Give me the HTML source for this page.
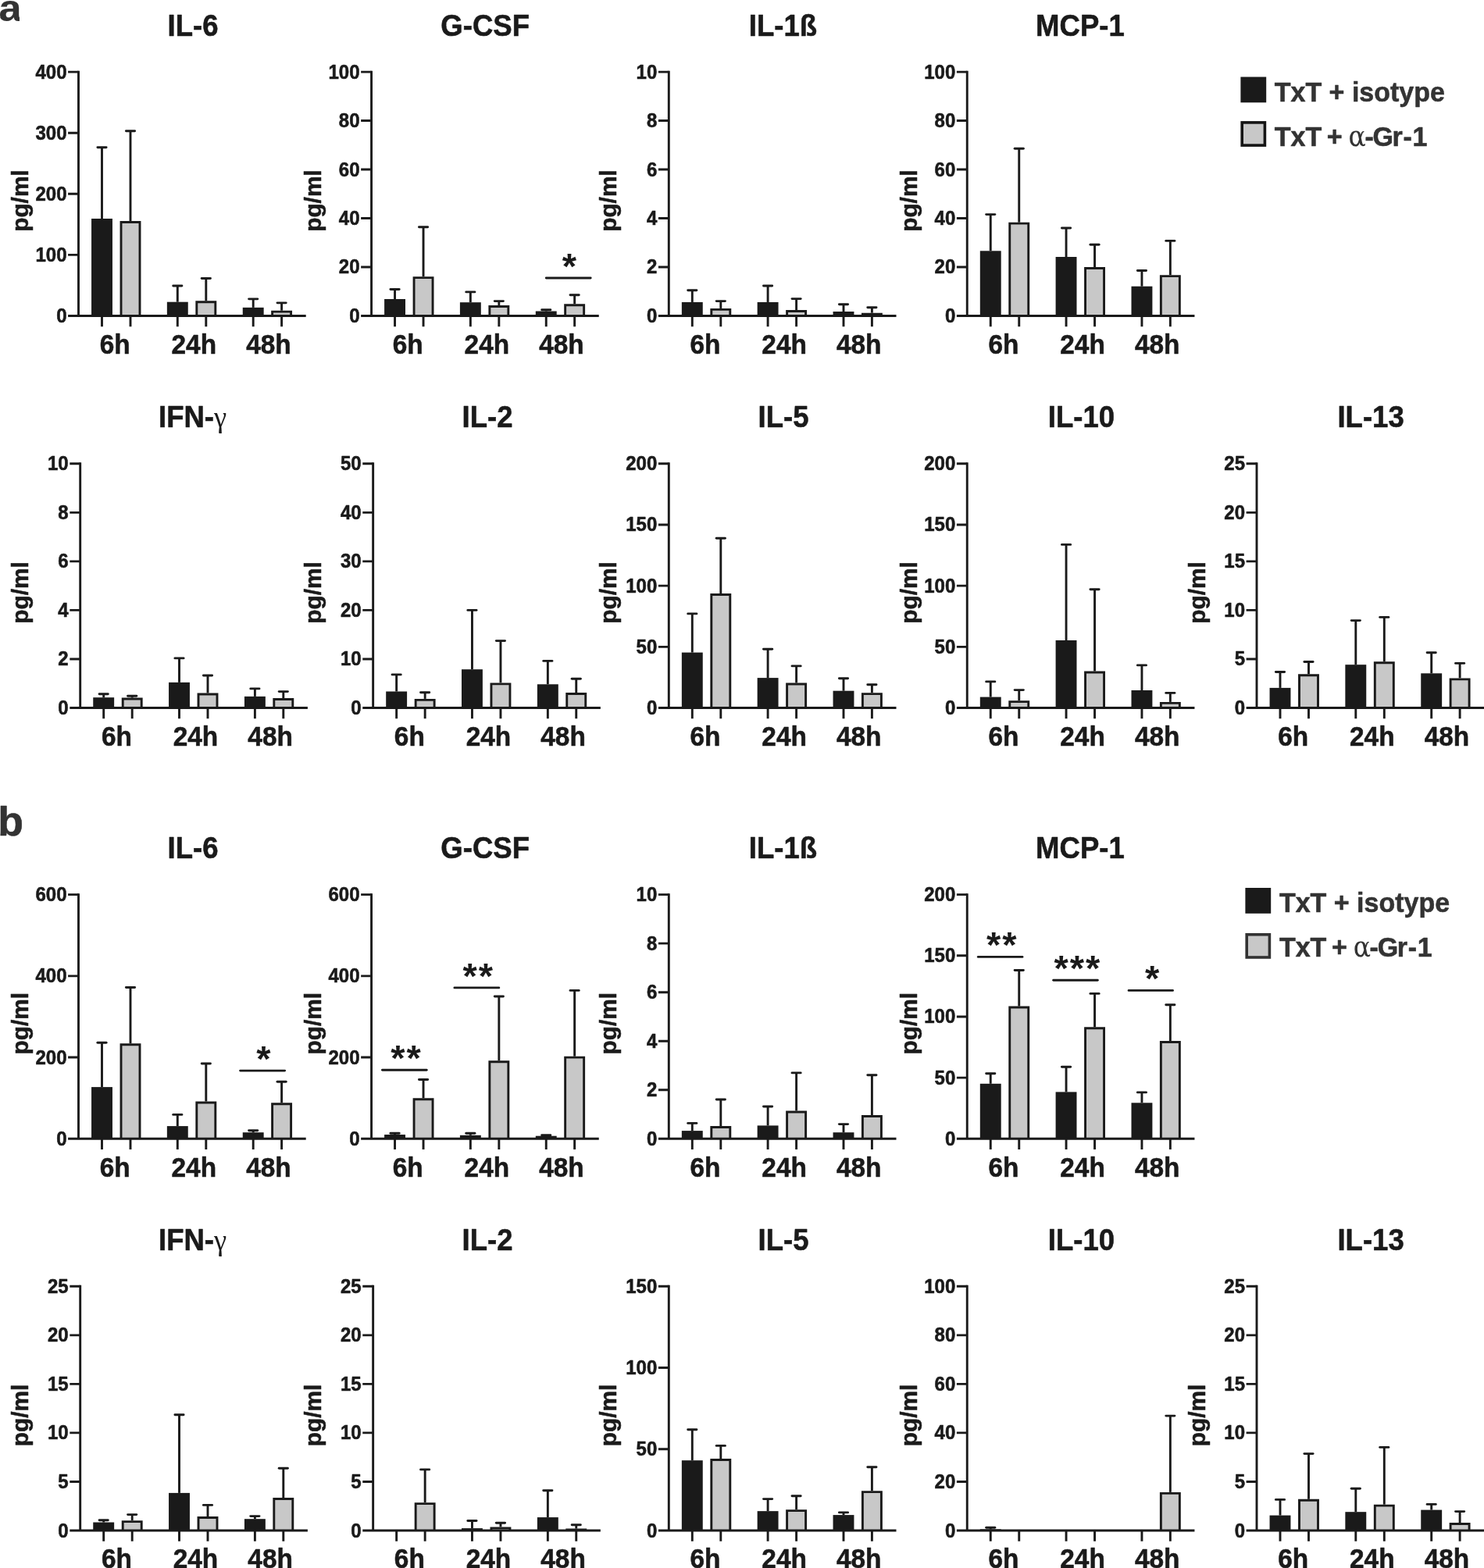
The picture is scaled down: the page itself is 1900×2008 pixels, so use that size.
<!DOCTYPE html>
<html lang="en">
<head>
<meta charset="utf-8">
<title>Cytokine levels: TxT + isotype vs TxT + α-Gr-1</title>
<style>
html,body{margin:0;padding:0;background:#fff;}
body{width:1900px;height:2008px;overflow:hidden;}
svg{display:block;}
text{font-family:"Liberation Sans", Arial, Helvetica, sans-serif;font-weight:700;fill:#1a1a1a;stroke:#1a1a1a;stroke-width:0.55px;stroke-linejoin:round;}
.ttl{font-size:37.0px;}
.tk{font-size:24.0px;}
.xl{font-size:33.4px;}
.yl{font-size:29.8px;}
.sg{font-size:47.0px;letter-spacing:1.9px;stroke:none;}
.lg{font-size:34.0px;fill:#333333;stroke:#333333;}
.ab{font-size:51.0px;fill:#333333;stroke:#333333;}
.gk{font-family:"Liberation Serif", "DejaVu Serif", serif;font-weight:400;stroke:none;}
.gk2{font-family:"DejaVu Serif", "Liberation Serif", serif;font-weight:400;stroke:none;font-size:33.0px;}
.axl{fill:none;stroke:#1a1a1a;stroke-width:2.9;}
.ln{fill:none;stroke:#1a1a1a;stroke-width:2.9;}
.rc{fill:none;stroke:#1a1a1a;stroke-width:2.9;stroke-linecap:round;}
.bk{fill:#1a1a1a;}
.gr{fill:#c8c8c8;stroke:#1a1a1a;stroke-width:2.9;stroke-linejoin:miter;}
</style>
</head>
<body>
<svg width="1900" height="2008" viewBox="0 0 1900 2008" role="img" aria-label="Cytokine bar charts">
<rect width="1900" height="2008" fill="#fff"/>
<clipPath id="clipA"><rect x="0" y="0" width="24.9" height="40"/></clipPath>
<g clip-path="url(#clipA)"><text class="ab" style="font-size:47.5px;stroke-width:0.2px" transform="translate(-1.6 26.8) scale(1.1 1)">a</text></g>
<text class="ab" transform="translate(-2.8 1069.6) scale(1.05 1)">b</text>
<g class="chart">
<text class="ttl" transform="translate(247 45.7) scale(0.988 1.05)" text-anchor="middle">IL-6</text>
<text class="yl" transform="translate(36.2 257.07) rotate(-90)" text-anchor="middle">pg/ml</text>
<path class="ln" d="M130.5 280V188.7"/><path class="rc" d="M124.9 188.7H136.1"/>
<rect class="bk" x="117.05" y="280" width="26.9" height="124.45"/>
<path class="ln" d="M167 283.1V167.8"/><path class="rc" d="M161.4 167.8H172.6"/>
<path class="gr" d="M155 404.45V284.55H179V404.45"/>
<path class="ln" d="M227.3 386.7V366"/><path class="rc" d="M221.7 366H232.9"/>
<rect class="bk" x="213.85" y="386.7" width="26.9" height="17.75"/>
<path class="ln" d="M263.8 385.3V356.5"/><path class="rc" d="M258.2 356.5H269.4"/>
<path class="gr" d="M251.8 404.45V386.75H275.8V404.45"/>
<path class="ln" d="M324.2 393.85V382.85"/><path class="rc" d="M318.6 382.85H329.8"/>
<rect class="bk" x="310.75" y="393.85" width="26.9" height="10.6"/>
<path class="ln" d="M360.6 397.7V387.85"/><path class="rc" d="M355 387.85H366.2"/>
<path class="gr" d="M348.6 404.45V399.15H372.6V404.45"/>
<path class="axl" d="M100.5 90.65V405.9M87.1 404.45H391.7"/>
<text class="tk" transform="translate(85.5 100.6) scale(1 1.04)" text-anchor="end">400</text>
<text class="tk" transform="translate(85.5 178.69) scale(1 1.04)" text-anchor="end">300</text>
<text class="tk" transform="translate(85.5 256.77) scale(1 1.04)" text-anchor="end">200</text>
<text class="tk" transform="translate(85.5 334.86) scale(1 1.04)" text-anchor="end">100</text>
<text class="tk" transform="translate(85.5 412.95) scale(1 1.04)" text-anchor="end">0</text>
<path class="ln" d="M87.1 92.1H100.5M87.1 170.19H100.5M87.1 248.28H100.5M87.1 326.36H100.5M130.5 404.45V418.15M167 404.45V418.15M227.3 404.45V418.15M263.8 404.45V418.15M324.2 404.45V418.15M360.6 404.45V418.15"/>
<text class="xl" transform="translate(147.2 452.75) scale(1 1.03)" text-anchor="middle">6h</text>
<text class="xl" transform="translate(248.3 452.75) scale(1 1.03)" text-anchor="middle">24h</text>
<text class="xl" transform="translate(343.9 452.75) scale(1 1.03)" text-anchor="middle">48h</text>
</g>
<g class="chart">
<text class="ttl" transform="translate(621.2 45.7) scale(0.988 1.05)" text-anchor="middle">G-CSF</text>
<text class="yl" transform="translate(411.2 257.07) rotate(-90)" text-anchor="middle">pg/ml</text>
<path class="ln" d="M505.55 383V370.5"/><path class="rc" d="M499.95 370.5H511.15"/>
<rect class="bk" x="492.1" y="383" width="26.9" height="21.45"/>
<path class="ln" d="M542.05 354.2V290.7"/><path class="rc" d="M536.45 290.7H547.65"/>
<path class="gr" d="M530.05 404.45V355.65H554.05V404.45"/>
<path class="ln" d="M602.35 387.2V373.9"/><path class="rc" d="M596.75 373.9H607.95"/>
<rect class="bk" x="588.9" y="387.2" width="26.9" height="17.25"/>
<path class="ln" d="M638.85 391.1V385.6"/><path class="rc" d="M633.25 385.6H644.45"/>
<path class="gr" d="M626.85 404.45V392.55H650.85V404.45"/>
<path class="ln" d="M699.25 398.5V396.8"/><path class="rc" d="M693.65 396.8H704.85"/>
<rect class="bk" x="685.8" y="398.5" width="26.9" height="5.95"/>
<path class="ln" d="M735.65 389.3V377.8"/><path class="rc" d="M730.05 377.8H741.25"/>
<path class="gr" d="M723.65 404.45V390.75H747.65V404.45"/>
<path class="axl" d="M475.55 90.65V405.9M462.15 404.45H766.75"/>
<text class="tk" transform="translate(460.55 100.6) scale(1 1.04)" text-anchor="end">100</text>
<text class="tk" transform="translate(460.55 163.07) scale(1 1.04)" text-anchor="end">80</text>
<text class="tk" transform="translate(460.55 225.54) scale(1 1.04)" text-anchor="end">60</text>
<text class="tk" transform="translate(460.55 288.01) scale(1 1.04)" text-anchor="end">40</text>
<text class="tk" transform="translate(460.55 350.48) scale(1 1.04)" text-anchor="end">20</text>
<text class="tk" transform="translate(460.55 412.95) scale(1 1.04)" text-anchor="end">0</text>
<path class="ln" d="M462.15 92.1H475.55M462.15 154.57H475.55M462.15 217.04H475.55M462.15 279.51H475.55M462.15 341.98H475.55M505.55 404.45V418.15M542.05 404.45V418.15M602.35 404.45V418.15M638.85 404.45V418.15M699.25 404.45V418.15M735.65 404.45V418.15"/>
<text class="xl" transform="translate(522.25 452.75) scale(1 1.03)" text-anchor="middle">6h</text>
<text class="xl" transform="translate(623.35 452.75) scale(1 1.03)" text-anchor="middle">24h</text>
<text class="xl" transform="translate(718.95 452.75) scale(1 1.03)" text-anchor="middle">48h</text>
<path class="rc" d="M699.3 356H756.2"/>
<text class="sg" transform="translate(729.95 356.85) scale(1 0.99)" text-anchor="middle">*</text>
</g>
<g class="chart">
<text class="ttl" transform="translate(1002.5 45.7) scale(0.988 1.05)" text-anchor="middle">IL-1ß</text>
<text class="yl" transform="translate(789.1 257.07) rotate(-90)" text-anchor="middle">pg/ml</text>
<path class="ln" d="M886.3 386.95V371.7"/><path class="rc" d="M880.7 371.7H891.9"/>
<rect class="bk" x="872.85" y="386.95" width="26.9" height="17.5"/>
<path class="ln" d="M922.8 394.95V385.6"/><path class="rc" d="M917.2 385.6H928.4"/>
<path class="gr" d="M910.8 404.45V396.4H934.8V404.45"/>
<path class="ln" d="M983.1 386.95V366"/><path class="rc" d="M977.5 366H988.7"/>
<rect class="bk" x="969.65" y="386.95" width="26.9" height="17.5"/>
<path class="ln" d="M1019.6 397V382.6"/><path class="rc" d="M1014 382.6H1025.2"/>
<path class="gr" d="M1007.6 404.45V398.45H1031.6V404.45"/>
<path class="ln" d="M1080 399V389.8"/><path class="rc" d="M1074.4 389.8H1085.6"/>
<rect class="bk" x="1066.55" y="399" width="26.9" height="5.45"/>
<path class="ln" d="M1116.4 400.7V393.7"/><path class="rc" d="M1110.8 393.7H1122"/>
<path class="gr" d="M1104.4 404.45V402.15H1128.4V404.45"/>
<path class="axl" d="M856.3 90.65V405.9M842.9 404.45H1147.5"/>
<text class="tk" transform="translate(841.3 100.6) scale(1 1.04)" text-anchor="end">10</text>
<text class="tk" transform="translate(841.3 163.07) scale(1 1.04)" text-anchor="end">8</text>
<text class="tk" transform="translate(841.3 225.54) scale(1 1.04)" text-anchor="end">6</text>
<text class="tk" transform="translate(841.3 288.01) scale(1 1.04)" text-anchor="end">4</text>
<text class="tk" transform="translate(841.3 350.48) scale(1 1.04)" text-anchor="end">2</text>
<text class="tk" transform="translate(841.3 412.95) scale(1 1.04)" text-anchor="end">0</text>
<path class="ln" d="M842.9 92.1H856.3M842.9 154.57H856.3M842.9 217.04H856.3M842.9 279.51H856.3M842.9 341.98H856.3M886.3 404.45V418.15M922.8 404.45V418.15M983.1 404.45V418.15M1019.6 404.45V418.15M1080 404.45V418.15M1116.4 404.45V418.15"/>
<text class="xl" transform="translate(903 452.75) scale(1 1.03)" text-anchor="middle">6h</text>
<text class="xl" transform="translate(1004.1 452.75) scale(1 1.03)" text-anchor="middle">24h</text>
<text class="xl" transform="translate(1099.7 452.75) scale(1 1.03)" text-anchor="middle">48h</text>
</g>
<g class="chart">
<text class="ttl" transform="translate(1382.9 45.7) scale(0.988 1.05)" text-anchor="middle">MCP-1</text>
<text class="yl" transform="translate(1173.7 257.07) rotate(-90)" text-anchor="middle">pg/ml</text>
<path class="ln" d="M1268.25 321.3V274.6"/><path class="rc" d="M1262.65 274.6H1273.85"/>
<rect class="bk" x="1254.8" y="321.3" width="26.9" height="83.15"/>
<path class="ln" d="M1304.75 284.7V190.3"/><path class="rc" d="M1299.15 190.3H1310.35"/>
<path class="gr" d="M1292.75 404.45V286.15H1316.75V404.45"/>
<path class="ln" d="M1365.05 329V292"/><path class="rc" d="M1359.45 292H1370.65"/>
<rect class="bk" x="1351.6" y="329" width="26.9" height="75.45"/>
<path class="ln" d="M1401.55 342V313.3"/><path class="rc" d="M1395.95 313.3H1407.15"/>
<path class="gr" d="M1389.55 404.45V343.45H1413.55V404.45"/>
<path class="ln" d="M1461.95 366.7V346.5"/><path class="rc" d="M1456.35 346.5H1467.55"/>
<rect class="bk" x="1448.5" y="366.7" width="26.9" height="37.75"/>
<path class="ln" d="M1498.35 352.2V308.4"/><path class="rc" d="M1492.75 308.4H1503.95"/>
<path class="gr" d="M1486.35 404.45V353.65H1510.35V404.45"/>
<path class="axl" d="M1238.25 90.65V405.9M1224.85 404.45H1529.45"/>
<text class="tk" transform="translate(1223.25 100.6) scale(1 1.04)" text-anchor="end">100</text>
<text class="tk" transform="translate(1223.25 163.07) scale(1 1.04)" text-anchor="end">80</text>
<text class="tk" transform="translate(1223.25 225.54) scale(1 1.04)" text-anchor="end">60</text>
<text class="tk" transform="translate(1223.25 288.01) scale(1 1.04)" text-anchor="end">40</text>
<text class="tk" transform="translate(1223.25 350.48) scale(1 1.04)" text-anchor="end">20</text>
<text class="tk" transform="translate(1223.25 412.95) scale(1 1.04)" text-anchor="end">0</text>
<path class="ln" d="M1224.85 92.1H1238.25M1224.85 154.57H1238.25M1224.85 217.04H1238.25M1224.85 279.51H1238.25M1224.85 341.98H1238.25M1268.25 404.45V418.15M1304.75 404.45V418.15M1365.05 404.45V418.15M1401.55 404.45V418.15M1461.95 404.45V418.15M1498.35 404.45V418.15"/>
<text class="xl" transform="translate(1284.95 452.75) scale(1 1.03)" text-anchor="middle">6h</text>
<text class="xl" transform="translate(1386.05 452.75) scale(1 1.03)" text-anchor="middle">24h</text>
<text class="xl" transform="translate(1481.65 452.75) scale(1 1.03)" text-anchor="middle">48h</text>
</g>
<g class="chart">
<text class="ttl" transform="translate(246.6 547.4) scale(0.988 1.05)" text-anchor="middle">IFN-<tspan class="gk">γ</tspan></text>
<text class="yl" transform="translate(36.2 758.95) rotate(-90)" text-anchor="middle">pg/ml</text>
<path class="ln" d="M132.7 893.2V888.7"/><path class="rc" d="M127.1 888.7H138.3"/>
<rect class="bk" x="119.25" y="893.2" width="26.9" height="13.3"/>
<path class="ln" d="M169.2 893.6V891.2"/><path class="rc" d="M163.6 891.2H174.8"/>
<path class="gr" d="M157.2 906.5V895.05H181.2V906.5"/>
<path class="ln" d="M229.5 873.9V842.9"/><path class="rc" d="M223.9 842.9H235.1"/>
<rect class="bk" x="216.05" y="873.9" width="26.9" height="32.6"/>
<path class="ln" d="M266 887.5V865"/><path class="rc" d="M260.4 865H271.6"/>
<path class="gr" d="M254 906.5V888.95H278V906.5"/>
<path class="ln" d="M326.4 891.9V881.9"/><path class="rc" d="M320.8 881.9H332"/>
<rect class="bk" x="312.95" y="891.9" width="26.9" height="14.6"/>
<path class="ln" d="M362.8 894V885.6"/><path class="rc" d="M357.2 885.6H368.4"/>
<path class="gr" d="M350.8 906.5V895.45H374.8V906.5"/>
<path class="axl" d="M102.7 592.35V907.95M89.3 906.5H393.9"/>
<text class="tk" transform="translate(87.7 602.3) scale(1 1.04)" text-anchor="end">10</text>
<text class="tk" transform="translate(87.7 664.84) scale(1 1.04)" text-anchor="end">8</text>
<text class="tk" transform="translate(87.7 727.38) scale(1 1.04)" text-anchor="end">6</text>
<text class="tk" transform="translate(87.7 789.92) scale(1 1.04)" text-anchor="end">4</text>
<text class="tk" transform="translate(87.7 852.46) scale(1 1.04)" text-anchor="end">2</text>
<text class="tk" transform="translate(87.7 915) scale(1 1.04)" text-anchor="end">0</text>
<path class="ln" d="M89.3 593.8H102.7M89.3 656.34H102.7M89.3 718.88H102.7M89.3 781.42H102.7M89.3 843.96H102.7M132.7 906.5V920.2M169.2 906.5V920.2M229.5 906.5V920.2M266 906.5V920.2M326.4 906.5V920.2M362.8 906.5V920.2"/>
<text class="xl" transform="translate(149.4 954.8) scale(1 1.03)" text-anchor="middle">6h</text>
<text class="xl" transform="translate(250.5 954.8) scale(1 1.03)" text-anchor="middle">24h</text>
<text class="xl" transform="translate(346.1 954.8) scale(1 1.03)" text-anchor="middle">48h</text>
</g>
<g class="chart">
<text class="ttl" transform="translate(624 547.4) scale(0.988 1.05)" text-anchor="middle">IL-2</text>
<text class="yl" transform="translate(411.2 758.95) rotate(-90)" text-anchor="middle">pg/ml</text>
<path class="ln" d="M507.65 885.5V863.9"/><path class="rc" d="M502.05 863.9H513.25"/>
<rect class="bk" x="494.2" y="885.5" width="26.9" height="21"/>
<path class="ln" d="M544.15 894.9V886.8"/><path class="rc" d="M538.55 886.8H549.75"/>
<path class="gr" d="M532.15 906.5V896.35H556.15V906.5"/>
<path class="ln" d="M604.45 857.2V781.4"/><path class="rc" d="M598.85 781.4H610.05"/>
<rect class="bk" x="591" y="857.2" width="26.9" height="49.3"/>
<path class="ln" d="M640.95 874.4V820.6"/><path class="rc" d="M635.35 820.6H646.55"/>
<path class="gr" d="M628.95 906.5V875.85H652.95V906.5"/>
<path class="ln" d="M701.35 876.3V846.4"/><path class="rc" d="M695.75 846.4H706.95"/>
<rect class="bk" x="687.9" y="876.3" width="26.9" height="30.2"/>
<path class="ln" d="M737.75 887V869.3"/><path class="rc" d="M732.15 869.3H743.35"/>
<path class="gr" d="M725.75 906.5V888.45H749.75V906.5"/>
<path class="axl" d="M477.65 592.35V907.95M464.25 906.5H768.85"/>
<text class="tk" transform="translate(462.65 602.3) scale(1 1.04)" text-anchor="end">50</text>
<text class="tk" transform="translate(462.65 664.84) scale(1 1.04)" text-anchor="end">40</text>
<text class="tk" transform="translate(462.65 727.38) scale(1 1.04)" text-anchor="end">30</text>
<text class="tk" transform="translate(462.65 789.92) scale(1 1.04)" text-anchor="end">20</text>
<text class="tk" transform="translate(462.65 852.46) scale(1 1.04)" text-anchor="end">10</text>
<text class="tk" transform="translate(462.65 915) scale(1 1.04)" text-anchor="end">0</text>
<path class="ln" d="M464.25 593.8H477.65M464.25 656.34H477.65M464.25 718.88H477.65M464.25 781.42H477.65M464.25 843.96H477.65M507.65 906.5V920.2M544.15 906.5V920.2M604.45 906.5V920.2M640.95 906.5V920.2M701.35 906.5V920.2M737.75 906.5V920.2"/>
<text class="xl" transform="translate(524.35 954.8) scale(1 1.03)" text-anchor="middle">6h</text>
<text class="xl" transform="translate(625.45 954.8) scale(1 1.03)" text-anchor="middle">24h</text>
<text class="xl" transform="translate(721.05 954.8) scale(1 1.03)" text-anchor="middle">48h</text>
</g>
<g class="chart">
<text class="ttl" transform="translate(1003 547.4) scale(0.988 1.05)" text-anchor="middle">IL-5</text>
<text class="yl" transform="translate(789.1 758.95) rotate(-90)" text-anchor="middle">pg/ml</text>
<path class="ln" d="M886.3 835.6V785.9"/><path class="rc" d="M880.7 785.9H891.9"/>
<rect class="bk" x="872.85" y="835.6" width="26.9" height="70.9"/>
<path class="ln" d="M922.8 760V689.2"/><path class="rc" d="M917.2 689.2H928.4"/>
<path class="gr" d="M910.8 906.5V761.45H934.8V906.5"/>
<path class="ln" d="M983.1 868.1V831.2"/><path class="rc" d="M977.5 831.2H988.7"/>
<rect class="bk" x="969.65" y="868.1" width="26.9" height="38.4"/>
<path class="ln" d="M1019.6 874.5V852.9"/><path class="rc" d="M1014 852.9H1025.2"/>
<path class="gr" d="M1007.6 906.5V875.95H1031.6V906.5"/>
<path class="ln" d="M1080 884.7V868.8"/><path class="rc" d="M1074.4 868.8H1085.6"/>
<rect class="bk" x="1066.55" y="884.7" width="26.9" height="21.8"/>
<path class="ln" d="M1116.4 887.2V876.7"/><path class="rc" d="M1110.8 876.7H1122"/>
<path class="gr" d="M1104.4 906.5V888.65H1128.4V906.5"/>
<path class="axl" d="M856.3 592.35V907.95M842.9 906.5H1147.5"/>
<text class="tk" transform="translate(841.3 602.3) scale(1 1.04)" text-anchor="end">200</text>
<text class="tk" transform="translate(841.3 680.47) scale(1 1.04)" text-anchor="end">150</text>
<text class="tk" transform="translate(841.3 758.65) scale(1 1.04)" text-anchor="end">100</text>
<text class="tk" transform="translate(841.3 836.83) scale(1 1.04)" text-anchor="end">50</text>
<text class="tk" transform="translate(841.3 915) scale(1 1.04)" text-anchor="end">0</text>
<path class="ln" d="M842.9 593.8H856.3M842.9 671.97H856.3M842.9 750.15H856.3M842.9 828.33H856.3M886.3 906.5V920.2M922.8 906.5V920.2M983.1 906.5V920.2M1019.6 906.5V920.2M1080 906.5V920.2M1116.4 906.5V920.2"/>
<text class="xl" transform="translate(903 954.8) scale(1 1.03)" text-anchor="middle">6h</text>
<text class="xl" transform="translate(1004.1 954.8) scale(1 1.03)" text-anchor="middle">24h</text>
<text class="xl" transform="translate(1099.7 954.8) scale(1 1.03)" text-anchor="middle">48h</text>
</g>
<g class="chart">
<text class="ttl" transform="translate(1384.4 547.4) scale(0.988 1.05)" text-anchor="middle">IL-10</text>
<text class="yl" transform="translate(1173.7 758.95) rotate(-90)" text-anchor="middle">pg/ml</text>
<path class="ln" d="M1268.25 892.6V872.9"/><path class="rc" d="M1262.65 872.9H1273.85"/>
<rect class="bk" x="1254.8" y="892.6" width="26.9" height="13.9"/>
<path class="ln" d="M1304.75 897.2V883.6"/><path class="rc" d="M1299.15 883.6H1310.35"/>
<path class="gr" d="M1292.75 906.5V898.65H1316.75V906.5"/>
<path class="ln" d="M1365.05 820V697.4"/><path class="rc" d="M1359.45 697.4H1370.65"/>
<rect class="bk" x="1351.6" y="820" width="26.9" height="86.5"/>
<path class="ln" d="M1401.55 859.5V754.7"/><path class="rc" d="M1395.95 754.7H1407.15"/>
<path class="gr" d="M1389.55 906.5V860.95H1413.55V906.5"/>
<path class="ln" d="M1461.95 884V851.9"/><path class="rc" d="M1456.35 851.9H1467.55"/>
<rect class="bk" x="1448.5" y="884" width="26.9" height="22.5"/>
<path class="ln" d="M1498.35 898.9V887.4"/><path class="rc" d="M1492.75 887.4H1503.95"/>
<path class="gr" d="M1486.35 906.5V900.35H1510.35V906.5"/>
<path class="axl" d="M1238.25 592.35V907.95M1224.85 906.5H1529.45"/>
<text class="tk" transform="translate(1223.25 602.3) scale(1 1.04)" text-anchor="end">200</text>
<text class="tk" transform="translate(1223.25 680.47) scale(1 1.04)" text-anchor="end">150</text>
<text class="tk" transform="translate(1223.25 758.65) scale(1 1.04)" text-anchor="end">100</text>
<text class="tk" transform="translate(1223.25 836.83) scale(1 1.04)" text-anchor="end">50</text>
<text class="tk" transform="translate(1223.25 915) scale(1 1.04)" text-anchor="end">0</text>
<path class="ln" d="M1224.85 593.8H1238.25M1224.85 671.97H1238.25M1224.85 750.15H1238.25M1224.85 828.33H1238.25M1268.25 906.5V920.2M1304.75 906.5V920.2M1365.05 906.5V920.2M1401.55 906.5V920.2M1461.95 906.5V920.2M1498.35 906.5V920.2"/>
<text class="xl" transform="translate(1284.95 954.8) scale(1 1.03)" text-anchor="middle">6h</text>
<text class="xl" transform="translate(1386.05 954.8) scale(1 1.03)" text-anchor="middle">24h</text>
<text class="xl" transform="translate(1481.65 954.8) scale(1 1.03)" text-anchor="middle">48h</text>
</g>
<g class="chart">
<text class="ttl" transform="translate(1755.1 547.4) scale(0.988 1.05)" text-anchor="middle">IL-13</text>
<text class="yl" transform="translate(1542.6 758.95) rotate(-90)" text-anchor="middle">pg/ml</text>
<path class="ln" d="M1639 880.9V860.5"/><path class="rc" d="M1633.4 860.5H1644.6"/>
<rect class="bk" x="1625.55" y="880.9" width="26.9" height="25.6"/>
<path class="ln" d="M1675.5 863.3V847.5"/><path class="rc" d="M1669.9 847.5H1681.1"/>
<path class="gr" d="M1663.5 906.5V864.75H1687.5V906.5"/>
<path class="ln" d="M1735.8 851.2V794.6"/><path class="rc" d="M1730.2 794.6H1741.4"/>
<rect class="bk" x="1722.35" y="851.2" width="26.9" height="55.3"/>
<path class="ln" d="M1772.3 847.3V790.4"/><path class="rc" d="M1766.7 790.4H1777.9"/>
<path class="gr" d="M1760.3 906.5V848.75H1784.3V906.5"/>
<path class="ln" d="M1832.7 862.3V835.7"/><path class="rc" d="M1827.1 835.7H1838.3"/>
<rect class="bk" x="1819.25" y="862.3" width="26.9" height="44.2"/>
<path class="ln" d="M1869.1 868.4V849.4"/><path class="rc" d="M1863.5 849.4H1874.7"/>
<path class="gr" d="M1857.1 906.5V869.85H1881.1V906.5"/>
<path class="axl" d="M1609 592.35V907.95M1595.6 906.5H1900"/>
<text class="tk" transform="translate(1594 602.3) scale(1 1.04)" text-anchor="end">25</text>
<text class="tk" transform="translate(1594 664.84) scale(1 1.04)" text-anchor="end">20</text>
<text class="tk" transform="translate(1594 727.38) scale(1 1.04)" text-anchor="end">15</text>
<text class="tk" transform="translate(1594 789.92) scale(1 1.04)" text-anchor="end">10</text>
<text class="tk" transform="translate(1594 852.46) scale(1 1.04)" text-anchor="end">5</text>
<text class="tk" transform="translate(1594 915) scale(1 1.04)" text-anchor="end">0</text>
<path class="ln" d="M1595.6 593.8H1609M1595.6 656.34H1609M1595.6 718.88H1609M1595.6 781.42H1609M1595.6 843.96H1609M1639 906.5V920.2M1675.5 906.5V920.2M1735.8 906.5V920.2M1772.3 906.5V920.2M1832.7 906.5V920.2M1869.1 906.5V920.2"/>
<text class="xl" transform="translate(1655.7 954.8) scale(1 1.03)" text-anchor="middle">6h</text>
<text class="xl" transform="translate(1756.8 954.8) scale(1 1.03)" text-anchor="middle">24h</text>
<text class="xl" transform="translate(1852.4 954.8) scale(1 1.03)" text-anchor="middle">48h</text>
</g>
<g class="chart">
<text class="ttl" transform="translate(247 1099.2) scale(0.988 1.05)" text-anchor="middle">IL-6</text>
<text class="yl" transform="translate(36.2 1310.75) rotate(-90)" text-anchor="middle">pg/ml</text>
<path class="ln" d="M130.5 1392.1V1335.3"/><path class="rc" d="M124.9 1335.3H136.1"/>
<rect class="bk" x="117.05" y="1392.1" width="26.9" height="66.2"/>
<path class="ln" d="M167 1336.3V1264.5"/><path class="rc" d="M161.4 1264.5H172.6"/>
<path class="gr" d="M155 1458.3V1337.75H179V1458.3"/>
<path class="ln" d="M227.3 1442.1V1427.4"/><path class="rc" d="M221.7 1427.4H232.9"/>
<rect class="bk" x="213.85" y="1442.1" width="26.9" height="16.2"/>
<path class="ln" d="M263.8 1410.5V1362"/><path class="rc" d="M258.2 1362H269.4"/>
<path class="gr" d="M251.8 1458.3V1411.95H275.8V1458.3"/>
<path class="ln" d="M324.2 1450.2V1447.8"/><path class="rc" d="M318.6 1447.8H329.8"/>
<rect class="bk" x="310.75" y="1450.2" width="26.9" height="8.1"/>
<path class="ln" d="M360.6 1412.3V1385.2"/><path class="rc" d="M355 1385.2H366.2"/>
<path class="gr" d="M348.6 1458.3V1413.75H372.6V1458.3"/>
<path class="axl" d="M100.5 1144.15V1459.75M87.1 1458.3H391.7"/>
<text class="tk" transform="translate(85.5 1154.1) scale(1 1.04)" text-anchor="end">600</text>
<text class="tk" transform="translate(85.5 1258.33) scale(1 1.04)" text-anchor="end">400</text>
<text class="tk" transform="translate(85.5 1362.57) scale(1 1.04)" text-anchor="end">200</text>
<text class="tk" transform="translate(85.5 1466.8) scale(1 1.04)" text-anchor="end">0</text>
<path class="ln" d="M87.1 1145.6H100.5M87.1 1249.83H100.5M87.1 1354.07H100.5M130.5 1458.3V1472M167 1458.3V1472M227.3 1458.3V1472M263.8 1458.3V1472M324.2 1458.3V1472M360.6 1458.3V1472"/>
<text class="xl" transform="translate(147.2 1506.6) scale(1 1.03)" text-anchor="middle">6h</text>
<text class="xl" transform="translate(248.3 1506.6) scale(1 1.03)" text-anchor="middle">24h</text>
<text class="xl" transform="translate(343.9 1506.6) scale(1 1.03)" text-anchor="middle">48h</text>
<path class="rc" d="M307.6 1371.1H364.6"/>
<text class="sg" transform="translate(338.45 1371.95) scale(1 0.99)" text-anchor="middle">*</text>
</g>
<g class="chart">
<text class="ttl" transform="translate(621.2 1099.2) scale(0.988 1.05)" text-anchor="middle">G-CSF</text>
<text class="yl" transform="translate(411.2 1310.75) rotate(-90)" text-anchor="middle">pg/ml</text>
<path class="ln" d="M505.55 1453V1451.3"/><path class="rc" d="M499.95 1451.3H511.15"/>
<rect class="bk" x="492.1" y="1453" width="26.9" height="5.3"/>
<path class="ln" d="M542.05 1406.3V1382.5"/><path class="rc" d="M536.45 1382.5H547.65"/>
<path class="gr" d="M530.05 1458.3V1407.75H554.05V1458.3"/>
<path class="ln" d="M602.35 1453.8V1451.3"/><path class="rc" d="M596.75 1451.3H607.95"/>
<rect class="bk" x="588.9" y="1453.8" width="26.9" height="4.5"/>
<path class="ln" d="M638.85 1358.3V1276"/><path class="rc" d="M633.25 1276H644.45"/>
<path class="gr" d="M626.85 1458.3V1359.75H650.85V1458.3"/>
<path class="ln" d="M699.25 1454.7V1453.8"/><path class="rc" d="M693.65 1453.8H704.85"/>
<rect class="bk" x="685.8" y="1454.7" width="26.9" height="3.6"/>
<path class="ln" d="M735.65 1352.7V1268.4"/><path class="rc" d="M730.05 1268.4H741.25"/>
<path class="gr" d="M723.65 1458.3V1354.15H747.65V1458.3"/>
<path class="axl" d="M475.55 1144.15V1459.75M462.15 1458.3H766.75"/>
<text class="tk" transform="translate(460.55 1154.1) scale(1 1.04)" text-anchor="end">600</text>
<text class="tk" transform="translate(460.55 1258.33) scale(1 1.04)" text-anchor="end">400</text>
<text class="tk" transform="translate(460.55 1362.57) scale(1 1.04)" text-anchor="end">200</text>
<text class="tk" transform="translate(460.55 1466.8) scale(1 1.04)" text-anchor="end">0</text>
<path class="ln" d="M462.15 1145.6H475.55M462.15 1249.83H475.55M462.15 1354.07H475.55M505.55 1458.3V1472M542.05 1458.3V1472M602.35 1458.3V1472M638.85 1458.3V1472M699.25 1458.3V1472M735.65 1458.3V1472"/>
<text class="xl" transform="translate(522.25 1506.6) scale(1 1.03)" text-anchor="middle">6h</text>
<text class="xl" transform="translate(623.35 1506.6) scale(1 1.03)" text-anchor="middle">24h</text>
<text class="xl" transform="translate(718.95 1506.6) scale(1 1.03)" text-anchor="middle">48h</text>
<path class="rc" d="M489.5 1370.2H546.2"/>
<text class="sg" transform="translate(520.45 1371.05) scale(1 0.99)" text-anchor="middle">**</text>
<path class="rc" d="M581.9 1264.9H638.8"/>
<text class="sg" transform="translate(612.75 1265.75) scale(1 0.99)" text-anchor="middle">**</text>
</g>
<g class="chart">
<text class="ttl" transform="translate(1002.5 1099.2) scale(0.988 1.05)" text-anchor="middle">IL-1ß</text>
<text class="yl" transform="translate(789.1 1310.75) rotate(-90)" text-anchor="middle">pg/ml</text>
<path class="ln" d="M886.3 1448.1V1438.4"/><path class="rc" d="M880.7 1438.4H891.9"/>
<rect class="bk" x="872.85" y="1448.1" width="26.9" height="10.2"/>
<path class="ln" d="M922.8 1442V1408"/><path class="rc" d="M917.2 1408H928.4"/>
<path class="gr" d="M910.8 1458.3V1443.45H934.8V1458.3"/>
<path class="ln" d="M983.1 1441.4V1417"/><path class="rc" d="M977.5 1417H988.7"/>
<rect class="bk" x="969.65" y="1441.4" width="26.9" height="16.9"/>
<path class="ln" d="M1019.6 1422.5V1373.9"/><path class="rc" d="M1014 1373.9H1025.2"/>
<path class="gr" d="M1007.6 1458.3V1423.95H1031.6V1458.3"/>
<path class="ln" d="M1080 1450.2V1439.6"/><path class="rc" d="M1074.4 1439.6H1085.6"/>
<rect class="bk" x="1066.55" y="1450.2" width="26.9" height="8.1"/>
<path class="ln" d="M1116.4 1428.1V1376.7"/><path class="rc" d="M1110.8 1376.7H1122"/>
<path class="gr" d="M1104.4 1458.3V1429.55H1128.4V1458.3"/>
<path class="axl" d="M856.3 1144.15V1459.75M842.9 1458.3H1147.5"/>
<text class="tk" transform="translate(841.3 1154.1) scale(1 1.04)" text-anchor="end">10</text>
<text class="tk" transform="translate(841.3 1216.64) scale(1 1.04)" text-anchor="end">8</text>
<text class="tk" transform="translate(841.3 1279.18) scale(1 1.04)" text-anchor="end">6</text>
<text class="tk" transform="translate(841.3 1341.72) scale(1 1.04)" text-anchor="end">4</text>
<text class="tk" transform="translate(841.3 1404.26) scale(1 1.04)" text-anchor="end">2</text>
<text class="tk" transform="translate(841.3 1466.8) scale(1 1.04)" text-anchor="end">0</text>
<path class="ln" d="M842.9 1145.6H856.3M842.9 1208.14H856.3M842.9 1270.68H856.3M842.9 1333.22H856.3M842.9 1395.76H856.3M886.3 1458.3V1472M922.8 1458.3V1472M983.1 1458.3V1472M1019.6 1458.3V1472M1080 1458.3V1472M1116.4 1458.3V1472"/>
<text class="xl" transform="translate(903 1506.6) scale(1 1.03)" text-anchor="middle">6h</text>
<text class="xl" transform="translate(1004.1 1506.6) scale(1 1.03)" text-anchor="middle">24h</text>
<text class="xl" transform="translate(1099.7 1506.6) scale(1 1.03)" text-anchor="middle">48h</text>
</g>
<g class="chart">
<text class="ttl" transform="translate(1382.9 1099.2) scale(0.988 1.05)" text-anchor="middle">MCP-1</text>
<text class="yl" transform="translate(1173.7 1310.75) rotate(-90)" text-anchor="middle">pg/ml</text>
<path class="ln" d="M1268.25 1387.8V1374.7"/><path class="rc" d="M1262.65 1374.7H1273.85"/>
<rect class="bk" x="1254.8" y="1387.8" width="26.9" height="70.5"/>
<path class="ln" d="M1304.75 1288.6V1242.5"/><path class="rc" d="M1299.15 1242.5H1310.35"/>
<path class="gr" d="M1292.75 1458.3V1290.05H1316.75V1458.3"/>
<path class="ln" d="M1365.05 1398.4V1366.2"/><path class="rc" d="M1359.45 1366.2H1370.65"/>
<rect class="bk" x="1351.6" y="1398.4" width="26.9" height="59.9"/>
<path class="ln" d="M1401.55 1315.3V1272.4"/><path class="rc" d="M1395.95 1272.4H1407.15"/>
<path class="gr" d="M1389.55 1458.3V1316.75H1413.55V1458.3"/>
<path class="ln" d="M1461.95 1412.3V1398.9"/><path class="rc" d="M1456.35 1398.9H1467.55"/>
<rect class="bk" x="1448.5" y="1412.3" width="26.9" height="46"/>
<path class="ln" d="M1498.35 1333V1286.8"/><path class="rc" d="M1492.75 1286.8H1503.95"/>
<path class="gr" d="M1486.35 1458.3V1334.45H1510.35V1458.3"/>
<path class="axl" d="M1238.25 1144.15V1459.75M1224.85 1458.3H1529.45"/>
<text class="tk" transform="translate(1223.25 1154.1) scale(1 1.04)" text-anchor="end">200</text>
<text class="tk" transform="translate(1223.25 1232.27) scale(1 1.04)" text-anchor="end">150</text>
<text class="tk" transform="translate(1223.25 1310.45) scale(1 1.04)" text-anchor="end">100</text>
<text class="tk" transform="translate(1223.25 1388.62) scale(1 1.04)" text-anchor="end">50</text>
<text class="tk" transform="translate(1223.25 1466.8) scale(1 1.04)" text-anchor="end">0</text>
<path class="ln" d="M1224.85 1145.6H1238.25M1224.85 1223.77H1238.25M1224.85 1301.95H1238.25M1224.85 1380.12H1238.25M1268.25 1458.3V1472M1304.75 1458.3V1472M1365.05 1458.3V1472M1401.55 1458.3V1472M1461.95 1458.3V1472M1498.35 1458.3V1472"/>
<text class="xl" transform="translate(1284.95 1506.6) scale(1 1.03)" text-anchor="middle">6h</text>
<text class="xl" transform="translate(1386.05 1506.6) scale(1 1.03)" text-anchor="middle">24h</text>
<text class="xl" transform="translate(1481.65 1506.6) scale(1 1.03)" text-anchor="middle">48h</text>
<path class="rc" d="M1252.3 1225.4H1309"/>
<text class="sg" transform="translate(1283.15 1226.25) scale(1 0.99)" text-anchor="middle">**</text>
<path class="rc" d="M1348.7 1255.2H1405.3"/>
<text class="sg" transform="translate(1379.85 1256.05) scale(1 0.99)" text-anchor="middle">***</text>
<path class="rc" d="M1445.1 1268.4H1501.5"/>
<text class="sg" transform="translate(1476.05 1269.25) scale(1 0.99)" text-anchor="middle">*</text>
</g>
<g class="chart">
<text class="ttl" transform="translate(246.6 1600.9) scale(0.988 1.05)" text-anchor="middle">IFN-<tspan class="gk">γ</tspan></text>
<text class="yl" transform="translate(36.2 1812.45) rotate(-90)" text-anchor="middle">pg/ml</text>
<path class="ln" d="M132.7 1949.5V1946.7"/><path class="rc" d="M127.1 1946.7H138.3"/>
<rect class="bk" x="119.25" y="1949.5" width="26.9" height="10.5"/>
<path class="ln" d="M169.2 1947.2V1939.6"/><path class="rc" d="M163.6 1939.6H174.8"/>
<path class="gr" d="M157.2 1960V1948.65H181.2V1960"/>
<path class="ln" d="M229.5 1911.9V1811.8"/><path class="rc" d="M223.9 1811.8H235.1"/>
<rect class="bk" x="216.05" y="1911.9" width="26.9" height="48.1"/>
<path class="ln" d="M266 1942V1927.4"/><path class="rc" d="M260.4 1927.4H271.6"/>
<path class="gr" d="M254 1960V1943.45H278V1960"/>
<path class="ln" d="M326.4 1945.2V1941.6"/><path class="rc" d="M320.8 1941.6H332"/>
<rect class="bk" x="312.95" y="1945.2" width="26.9" height="14.8"/>
<path class="ln" d="M362.8 1918.1V1880.2"/><path class="rc" d="M357.2 1880.2H368.4"/>
<path class="gr" d="M350.8 1960V1919.55H374.8V1960"/>
<path class="axl" d="M102.7 1645.85V1961.45M89.3 1960H393.9"/>
<text class="tk" transform="translate(87.7 1655.8) scale(1 1.04)" text-anchor="end">25</text>
<text class="tk" transform="translate(87.7 1718.34) scale(1 1.04)" text-anchor="end">20</text>
<text class="tk" transform="translate(87.7 1780.88) scale(1 1.04)" text-anchor="end">15</text>
<text class="tk" transform="translate(87.7 1843.42) scale(1 1.04)" text-anchor="end">10</text>
<text class="tk" transform="translate(87.7 1905.96) scale(1 1.04)" text-anchor="end">5</text>
<text class="tk" transform="translate(87.7 1968.5) scale(1 1.04)" text-anchor="end">0</text>
<path class="ln" d="M89.3 1647.3H102.7M89.3 1709.84H102.7M89.3 1772.38H102.7M89.3 1834.92H102.7M89.3 1897.46H102.7M132.7 1960V1973.7M169.2 1960V1973.7M229.5 1960V1973.7M266 1960V1973.7M326.4 1960V1973.7M362.8 1960V1973.7"/>
<text class="xl" transform="translate(149.4 2008.3) scale(1 1.03)" text-anchor="middle">6h</text>
<text class="xl" transform="translate(250.5 2008.3) scale(1 1.03)" text-anchor="middle">24h</text>
<text class="xl" transform="translate(346.1 2008.3) scale(1 1.03)" text-anchor="middle">48h</text>
</g>
<g class="chart">
<text class="ttl" transform="translate(624 1600.9) scale(0.988 1.05)" text-anchor="middle">IL-2</text>
<text class="yl" transform="translate(411.2 1812.45) rotate(-90)" text-anchor="middle">pg/ml</text>
<path class="ln" d="M544.15 1924.2V1881.9"/><path class="rc" d="M538.55 1881.9H549.75"/>
<path class="gr" d="M532.15 1960V1925.65H556.15V1960"/>
<path class="ln" d="M604.45 1957.1V1947.5"/><path class="rc" d="M598.85 1947.5H610.05"/>
<rect class="bk" x="591" y="1957.1" width="26.9" height="2.9"/>
<path class="ln" d="M640.95 1955.4V1950.3"/><path class="rc" d="M635.35 1950.3H646.55"/>
<path class="gr" d="M628.95 1960V1956.85H652.95V1960"/>
<path class="ln" d="M701.35 1943.1V1908.7"/><path class="rc" d="M695.75 1908.7H706.95"/>
<rect class="bk" x="687.9" y="1943.1" width="26.9" height="16.9"/>
<path class="ln" d="M737.75 1957.6V1952.8"/><path class="rc" d="M732.15 1952.8H743.35"/>
<path class="gr" d="M725.75 1960V1959.05H749.75V1960"/>
<path class="axl" d="M477.65 1645.85V1961.45M464.25 1960H768.85"/>
<text class="tk" transform="translate(462.65 1655.8) scale(1 1.04)" text-anchor="end">25</text>
<text class="tk" transform="translate(462.65 1718.34) scale(1 1.04)" text-anchor="end">20</text>
<text class="tk" transform="translate(462.65 1780.88) scale(1 1.04)" text-anchor="end">15</text>
<text class="tk" transform="translate(462.65 1843.42) scale(1 1.04)" text-anchor="end">10</text>
<text class="tk" transform="translate(462.65 1905.96) scale(1 1.04)" text-anchor="end">5</text>
<text class="tk" transform="translate(462.65 1968.5) scale(1 1.04)" text-anchor="end">0</text>
<path class="ln" d="M464.25 1647.3H477.65M464.25 1709.84H477.65M464.25 1772.38H477.65M464.25 1834.92H477.65M464.25 1897.46H477.65M507.65 1960V1973.7M544.15 1960V1973.7M604.45 1960V1973.7M640.95 1960V1973.7M701.35 1960V1973.7M737.75 1960V1973.7"/>
<text class="xl" transform="translate(524.35 2008.3) scale(1 1.03)" text-anchor="middle">6h</text>
<text class="xl" transform="translate(625.45 2008.3) scale(1 1.03)" text-anchor="middle">24h</text>
<text class="xl" transform="translate(721.05 2008.3) scale(1 1.03)" text-anchor="middle">48h</text>
</g>
<g class="chart">
<text class="ttl" transform="translate(1003 1600.9) scale(0.988 1.05)" text-anchor="middle">IL-5</text>
<text class="yl" transform="translate(789.1 1812.45) rotate(-90)" text-anchor="middle">pg/ml</text>
<path class="ln" d="M886.3 1870.2V1830.8"/><path class="rc" d="M880.7 1830.8H891.9"/>
<rect class="bk" x="872.85" y="1870.2" width="26.9" height="89.8"/>
<path class="ln" d="M922.8 1868.1V1851.4"/><path class="rc" d="M917.2 1851.4H928.4"/>
<path class="gr" d="M910.8 1960V1869.55H934.8V1960"/>
<path class="ln" d="M983.1 1935.15V1919.6"/><path class="rc" d="M977.5 1919.6H988.7"/>
<rect class="bk" x="969.65" y="1935.15" width="26.9" height="24.85"/>
<path class="ln" d="M1019.6 1933.2V1915.8"/><path class="rc" d="M1014 1915.8H1025.2"/>
<path class="gr" d="M1007.6 1960V1934.65H1031.6V1960"/>
<path class="ln" d="M1080 1940.1V1936.9"/><path class="rc" d="M1074.4 1936.9H1085.6"/>
<rect class="bk" x="1066.55" y="1940.1" width="26.9" height="19.9"/>
<path class="ln" d="M1116.4 1909.2V1878.8"/><path class="rc" d="M1110.8 1878.8H1122"/>
<path class="gr" d="M1104.4 1960V1910.65H1128.4V1960"/>
<path class="axl" d="M856.3 1645.85V1961.45M842.9 1960H1147.5"/>
<text class="tk" transform="translate(841.3 1655.8) scale(1 1.04)" text-anchor="end">150</text>
<text class="tk" transform="translate(841.3 1760.03) scale(1 1.04)" text-anchor="end">100</text>
<text class="tk" transform="translate(841.3 1864.27) scale(1 1.04)" text-anchor="end">50</text>
<text class="tk" transform="translate(841.3 1968.5) scale(1 1.04)" text-anchor="end">0</text>
<path class="ln" d="M842.9 1647.3H856.3M842.9 1751.53H856.3M842.9 1855.77H856.3M886.3 1960V1973.7M922.8 1960V1973.7M983.1 1960V1973.7M1019.6 1960V1973.7M1080 1960V1973.7M1116.4 1960V1973.7"/>
<text class="xl" transform="translate(903 2008.3) scale(1 1.03)" text-anchor="middle">6h</text>
<text class="xl" transform="translate(1004.1 2008.3) scale(1 1.03)" text-anchor="middle">24h</text>
<text class="xl" transform="translate(1099.7 2008.3) scale(1 1.03)" text-anchor="middle">48h</text>
</g>
<g class="chart">
<text class="ttl" transform="translate(1384.4 1600.9) scale(0.988 1.05)" text-anchor="middle">IL-10</text>
<text class="yl" transform="translate(1173.7 1812.45) rotate(-90)" text-anchor="middle">pg/ml</text>
<path class="ln" d="M1268.25 1958.3V1956.3"/><path class="rc" d="M1262.65 1956.3H1273.85"/>
<rect class="bk" x="1254.8" y="1958.3" width="26.9" height="1.7"/>
<path class="ln" d="M1498.35 1910.9V1813.1"/><path class="rc" d="M1492.75 1813.1H1503.95"/>
<path class="gr" d="M1486.35 1960V1912.35H1510.35V1960"/>
<path class="axl" d="M1238.25 1645.85V1961.45M1224.85 1960H1529.45"/>
<text class="tk" transform="translate(1223.25 1655.8) scale(1 1.04)" text-anchor="end">100</text>
<text class="tk" transform="translate(1223.25 1718.34) scale(1 1.04)" text-anchor="end">80</text>
<text class="tk" transform="translate(1223.25 1780.88) scale(1 1.04)" text-anchor="end">60</text>
<text class="tk" transform="translate(1223.25 1843.42) scale(1 1.04)" text-anchor="end">40</text>
<text class="tk" transform="translate(1223.25 1905.96) scale(1 1.04)" text-anchor="end">20</text>
<text class="tk" transform="translate(1223.25 1968.5) scale(1 1.04)" text-anchor="end">0</text>
<path class="ln" d="M1224.85 1647.3H1238.25M1224.85 1709.84H1238.25M1224.85 1772.38H1238.25M1224.85 1834.92H1238.25M1224.85 1897.46H1238.25M1268.25 1960V1973.7M1304.75 1960V1973.7M1365.05 1960V1973.7M1401.55 1960V1973.7M1461.95 1960V1973.7M1498.35 1960V1973.7"/>
<text class="xl" transform="translate(1284.95 2008.3) scale(1 1.03)" text-anchor="middle">6h</text>
<text class="xl" transform="translate(1386.05 2008.3) scale(1 1.03)" text-anchor="middle">24h</text>
<text class="xl" transform="translate(1481.65 2008.3) scale(1 1.03)" text-anchor="middle">48h</text>
</g>
<g class="chart">
<text class="ttl" transform="translate(1755.1 1600.9) scale(0.988 1.05)" text-anchor="middle">IL-13</text>
<text class="yl" transform="translate(1542.6 1812.45) rotate(-90)" text-anchor="middle">pg/ml</text>
<path class="ln" d="M1639 1940.6V1920.4"/><path class="rc" d="M1633.4 1920.4H1644.6"/>
<rect class="bk" x="1625.55" y="1940.6" width="26.9" height="19.4"/>
<path class="ln" d="M1675.5 1919.8V1861.6"/><path class="rc" d="M1669.9 1861.6H1681.1"/>
<path class="gr" d="M1663.5 1960V1921.25H1687.5V1960"/>
<path class="ln" d="M1735.8 1936.2V1906.2"/><path class="rc" d="M1730.2 1906.2H1741.4"/>
<rect class="bk" x="1722.35" y="1936.2" width="26.9" height="23.8"/>
<path class="ln" d="M1772.3 1926.7V1853.4"/><path class="rc" d="M1766.7 1853.4H1777.9"/>
<path class="gr" d="M1760.3 1960V1928.15H1784.3V1960"/>
<path class="ln" d="M1832.7 1933.6V1926.4"/><path class="rc" d="M1827.1 1926.4H1838.3"/>
<rect class="bk" x="1819.25" y="1933.6" width="26.9" height="26.4"/>
<path class="ln" d="M1869.1 1950V1935.6"/><path class="rc" d="M1863.5 1935.6H1874.7"/>
<path class="gr" d="M1857.1 1960V1951.45H1881.1V1960"/>
<path class="axl" d="M1609 1645.85V1961.45M1595.6 1960H1900"/>
<text class="tk" transform="translate(1594 1655.8) scale(1 1.04)" text-anchor="end">25</text>
<text class="tk" transform="translate(1594 1718.34) scale(1 1.04)" text-anchor="end">20</text>
<text class="tk" transform="translate(1594 1780.88) scale(1 1.04)" text-anchor="end">15</text>
<text class="tk" transform="translate(1594 1843.42) scale(1 1.04)" text-anchor="end">10</text>
<text class="tk" transform="translate(1594 1905.96) scale(1 1.04)" text-anchor="end">5</text>
<text class="tk" transform="translate(1594 1968.5) scale(1 1.04)" text-anchor="end">0</text>
<path class="ln" d="M1595.6 1647.3H1609M1595.6 1709.84H1609M1595.6 1772.38H1609M1595.6 1834.92H1609M1595.6 1897.46H1609M1639 1960V1973.7M1675.5 1960V1973.7M1735.8 1960V1973.7M1772.3 1960V1973.7M1832.7 1960V1973.7M1869.1 1960V1973.7"/>
<text class="xl" transform="translate(1655.7 2008.3) scale(1 1.03)" text-anchor="middle">6h</text>
<text class="xl" transform="translate(1756.8 2008.3) scale(1 1.03)" text-anchor="middle">24h</text>
<text class="xl" transform="translate(1852.4 2008.3) scale(1 1.03)" text-anchor="middle">48h</text>
</g>
<g class="legend">
<rect x="1588.4" y="98.5" width="32.8" height="32.8" fill="#1a1a1a"/>
<rect x="1590.2" y="156.9" width="29.2" height="29.2" fill="#c8c8c8" stroke="#151515" stroke-width="3.6"/>
<text class="lg" transform="translate(1631.7 130.1) scale(1 1.05)">TxT + isotype</text>
<text class="lg" transform="translate(1631.7 186.6) scale(1 1.05)">TxT<tspan dx="-2.9"> + </tspan><tspan class="gk2" dx="-1.5">α</tspan><tspan dx="-1.4 -1.2 -1.5 0.9 0.65">-Gr-1</tspan></text>
</g>
<g class="legend">
<rect x="1594.4" y="1137" width="32.8" height="32.8" fill="#1a1a1a"/>
<rect x="1596.2" y="1196.8" width="29.2" height="29.2" fill="#c8c8c8" stroke="#323232" stroke-width="3.6"/>
<text class="lg" transform="translate(1637.9 1168.1) scale(1 1.05)">TxT + isotype</text>
<text class="lg" transform="translate(1637.9 1224.8) scale(1 1.05)">TxT<tspan dx="-2.9"> + </tspan><tspan class="gk2" dx="-1.5">α</tspan><tspan dx="-1.4 -1.2 -1.5 0.9 0.65">-Gr-1</tspan></text>
</g>
</svg>
</body>
</html>
